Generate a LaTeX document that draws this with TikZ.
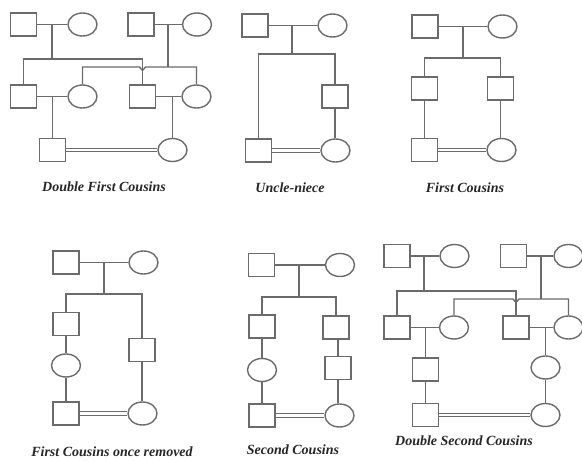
\documentclass[tikz,border=0pt]{standalone}
\usepackage{fontspec}
\setmainfont{Liberation Serif}
\usetikzlibrary{shapes.geometric}
\begin{document}
\begin{tikzpicture}[x=1pt,y=-1pt,
  ln/.style={draw=black!58,line width=1.4pt},
  sq/.style={ln,rectangle,minimum width=26pt,minimum height=23pt,inner sep=0pt},
  ov/.style={ln,ellipse,minimum width=29pt,minimum height=23pt,inner sep=0pt},
  captext/.style={font=\bfseries\itshape\fontsize{14}{16}\selectfont,inner sep=0pt,text=black!85},
  wed/.style={draw=black!58,line width=1.1pt,double=white,double distance=2.4pt}]
\useasboundingbox (0,0) rectangle (582,461);
\fill[white] (0,0) rectangle (582,461);

% ===== Panel 1: Double First Cousins =====
\node[sq] (a11) at (23.5,24.5) {};
\node[ov] (a12) at (82.5,24.5) {};
\node[sq] (a13) at (141,24.5) {};
\node[ov] (a14) at (197,24.5) {};
\node[sq] (a21) at (23.5,96.5) {};
\node[ov] (a22) at (82.5,96.5) {};
\node[sq] (a23) at (142.5,96.5) {};
\node[ov] (a24) at (196.5,96.5) {};
\node[sq] (a31) at (52.5,150) {};
\node[ov] (a32) at (172.5,150) {};
\coordinate (am1) at (52,24.5);
\coordinate (aj1) at (52,59);
\coordinate (am2) at (168,24.5);
\coordinate (aj2) at (168,67);
\coordinate (ah1) at (139.5,67);
\coordinate (ah2) at (142.5,70.5);
\coordinate (ah3) at (145.5,67);
\coordinate (am3) at (52.5,96.5);
\coordinate (am4) at (172.5,96.5);
\draw[ln] (a11) -- (a12);
\draw[ln] (a13) -- (a14);
\draw[ln] (am1) -- (aj1);
\draw[ln] (am2) -- (aj2);
\draw[ln] (a21.north) |- (aj1) -| (a23.north);
\draw[ln] (a22.north) |- (ah1) -- (ah2) -- (ah3) -| (a24.north);
\draw[ln] (a21) -- (a22);
\draw[ln] (a23) -- (a24);
\draw[ln] (am3) -- (a31.north);
\draw[ln] (am4) -- (a32.north);
\draw[wed] (a31) -- (a32);
\node[captext] (t1) at (104,187) {Double First Cousins};

% ===== Panel 2: Uncle-niece =====
\node[sq] (b11) at (255,25.5) {};
\node[ov] (b12) at (332.5,25.5) {};
\node[sq] (b21) at (335,96.5) {};
\node[sq] (b31) at (258.5,150.5) {};
\node[ov] (b32) at (335.5,150.5) {};
\coordinate (bm1) at (292,25.5);
\coordinate (bj1) at (292,54);
\draw[ln] (b11) -- (b12);
\draw[ln] (bm1) -- (bj1);
\draw[ln] (b31.north) |- (bj1) -| (b21.north);
\draw[ln] (b21.south) -- (b21.south |- b32.north);
\draw[wed] (b31) -- (b32);
\node[captext] (t2) at (290,188) {Uncle-niece};

% ===== Panel 3: First Cousins =====
\node[sq] (c11) at (425,26.5) {};
\node[ov] (c12) at (502.5,26.5) {};
\node[sq] (c21) at (424.5,88.5) {};
\node[sq] (c22) at (500.5,88.5) {};
\node[sq] (c31) at (424.5,150) {};
\node[ov] (c32) at (501.5,150) {};
\coordinate (cm1) at (463,26.5);
\coordinate (cj1) at (463,58);
\draw[ln] (c11) -- (c12);
\draw[ln] (cm1) -- (cj1);
\draw[ln] (c21.north) |- (cj1) -| (c22.north);
\draw[ln] (c21) -- (c31);
\draw[ln] (c22.south) -- (c22.south |- c32.north);
\draw[wed] (c31) -- (c32);
\node[captext] (t3) at (465,188) {First Cousins};

% ===== Panel 4: First Cousins once removed =====
\node[sq] (d11) at (66,262.5) {};
\node[ov] (d12) at (143.5,262.5) {};
\node[sq] (d21) at (66,324) {};
\node[ov] (d22) at (66,365.5) {};
\node[sq] (d23) at (66,413.5) {};
\node[sq] (d31) at (142,350) {};
\node[ov] (d32) at (142.5,413.5) {};
\coordinate (dm1) at (104,262.5);
\coordinate (dj1) at (104,294);
\draw[ln] (d11) -- (d12);
\draw[ln] (dm1) -- (dj1);
\draw[ln] (d21.north) |- (dj1) -| (d31.north);
\draw[ln] (d21) -- (d22);
\draw[ln] (d22) -- (d23);
\draw[ln] (d31.south) -- (d31.south |- d32.north);
\draw[wed] (d23) -- (d32);
\node[captext] (t4) at (112,452) {First Cousins once removed};

% ===== Panel 5: Second Cousins =====
\node[sq] (e11) at (261.5,265) {};
\node[ov] (e12) at (340,265) {};
\node[sq] (e21) at (262,326.5) {};
\node[ov] (e22) at (262,370) {};
\node[sq] (e23) at (262,415.5) {};
\node[sq] (e31) at (336,327.5) {};
\node[sq] (e32) at (338,368) {};
\node[ov] (e33) at (339.5,415.5) {};
\coordinate (em1) at (299,265);
\coordinate (ej1) at (299,297);
\draw[ln] (e11) -- (e12);
\draw[ln] (em1) -- (ej1);
\draw[ln] (e21.north) |- (ej1) -| (e31.north);
\draw[ln] (e21) -- (e22);
\draw[ln] (e22) -- (e23);
\draw[ln] (e32.north) -- (e32.north |- e31.south);
\draw[ln] (e32.south) -- (e32.south |- e33.north);
\draw[wed] (e23) -- (e33);
\node[captext] (t5) at (293,450) {Second Cousins};

% ===== Panel 6: Double Second Cousins =====
\node[sq] (f11) at (397,256) {};
\node[ov] (f12) at (454.5,256) {};
\node[sq] (f13) at (513.5,256) {};
\node[ov] (f14) at (568.5,256) {};
\node[sq] (f21) at (397,327.5) {};
\node[ov] (f22) at (454,327.5) {};
\node[sq] (f23) at (516,327.5) {};
\node[ov] (f24) at (568.5,327.5) {};
\node[sq] (f31) at (425.5,369.5) {};
\node[ov] (f32) at (545.5,367.5) {};
\node[sq] (f41) at (425.5,415) {};
\node[ov] (f42) at (545.5,415) {};
\coordinate (fm1) at (424,256);
\coordinate (fj1) at (424,291);
\coordinate (fm2) at (541,256);
\coordinate (fj2) at (541,299);
\coordinate (fh1) at (513,299);
\coordinate (fh2) at (516,302.5);
\coordinate (fh3) at (519,299);
\coordinate (fm3) at (425.5,327.5);
\coordinate (fm4) at (545.5,327.5);
\draw[ln] (f11) -- (f12);
\draw[ln] (f13) -- (f14);
\draw[ln] (fm1) -- (fj1);
\draw[ln] (fm2) -- (fj2);
\draw[ln] (f21.north) |- (fj1) -| (f23.north);
\draw[ln] (f22.north) |- (fh1) -- (fh2) -- (fh3) -| (f24.north);
\draw[ln] (f21) -- (f22);
\draw[ln] (f23) -- (f24);
\draw[ln] (fm3) -- (f31.north);
\draw[ln] (fm4) -- (f32.north);
\draw[ln] (f31) -- (f41);
\draw[ln] (f32) -- (f42);
\draw[wed] (f41) -- (f42);
\node[captext] (t6) at (464,441) {Double Second Cousins};
\end{tikzpicture}
\end{document}
